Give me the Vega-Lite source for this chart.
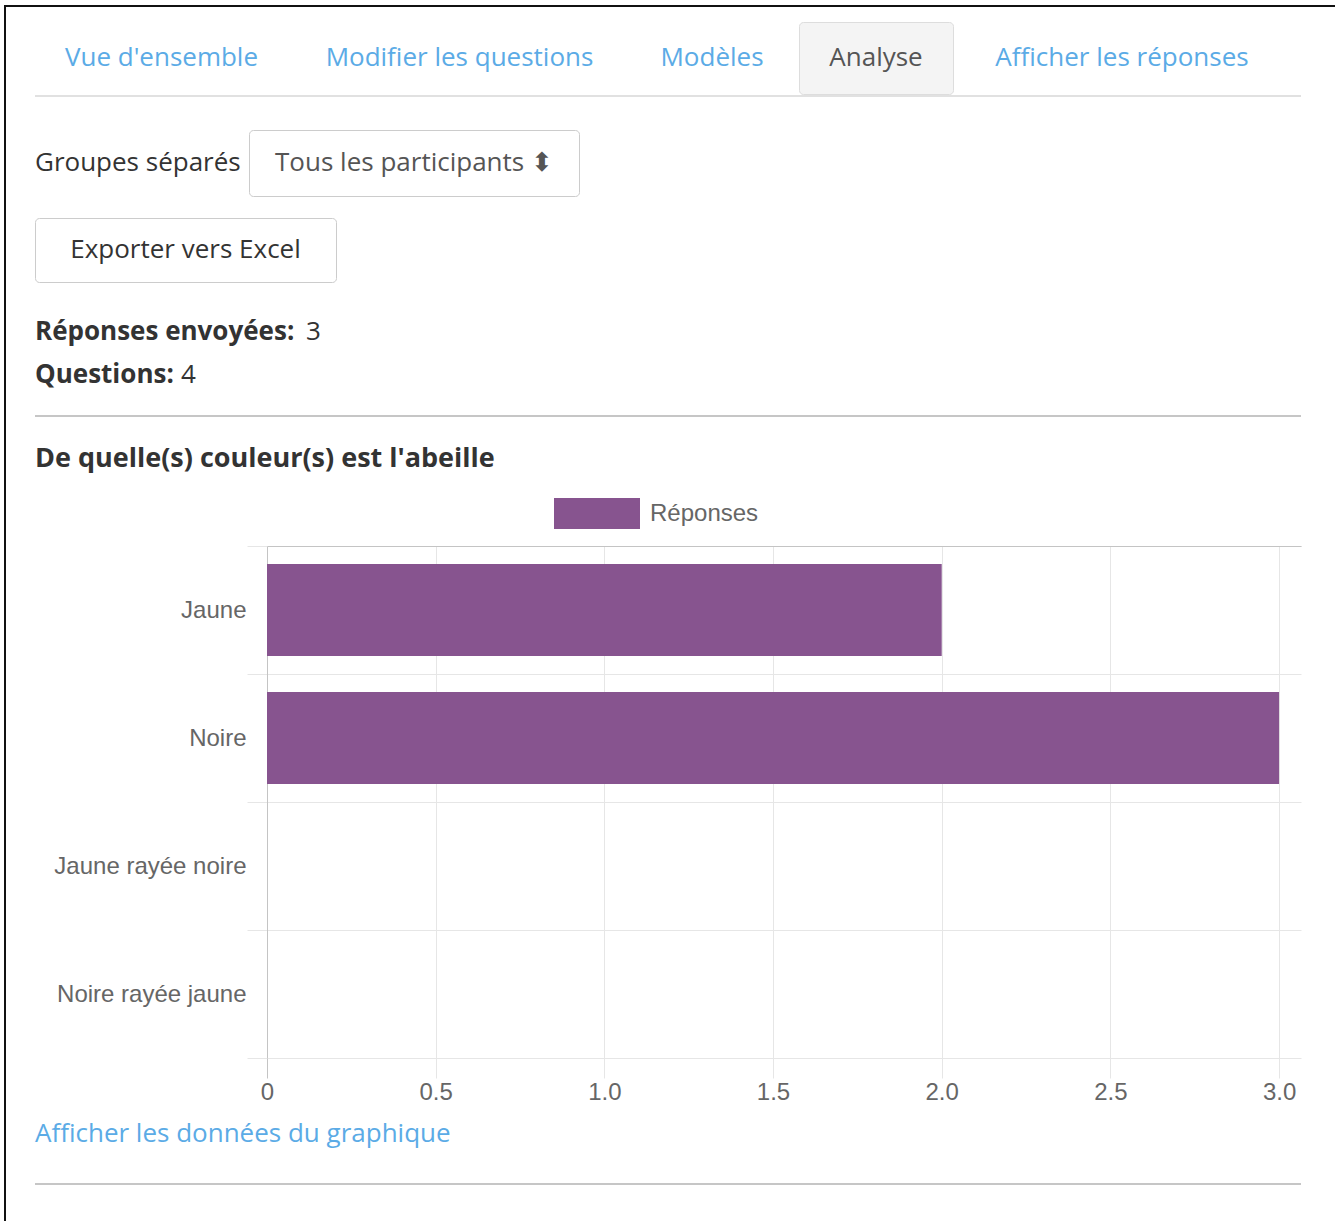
{
  "$schema": "https://vega.github.io/schema/vega-lite/v6.json",
  "background": "white",
  "padding": {"left": 4, "top": 5, "right": 0, "bottom": 0},
  "config": {"view": {"stroke": null}},
  "columns": 1,
  "spacing": 0,
  "align": "none",
  "concat": [
    {"width": 1331, "height": 2, "view": {"fill": "#111111"}, "data": {"values": [{}]}, "mark": {"type": "text", "text": "", "fontSize": 0}},
    {
      "columns": 3,
      "spacing": 28,
      "align": "none",
      "concat": [
        {"width": 2, "height": 1214, "view": {"fill": "#111111"}, "data": {"values": [{}]}, "mark": {"type": "text", "text": "", "fontSize": 0}},
        {
          "columns": 1,
          "spacing": 0,
          "align": "none",
          "concat": [
            {"width": 1271, "height": 13.5, "data": {"values": [{}]}, "mark": {"type": "text", "text": "", "fontSize": 0}},
            {
              "columns": 5,
              "spacing": 5,
              "align": "none",
              "concat": [
                {"width": 253, "height": 72, "data": {"values": [{"t": "Vue d'ensemble"}]}, "mark": {"type": "text", "align": "center", "baseline": "middle", "font": "Open Sans", "fontSize": 26, "color": "#5babe6"}, "encoding": {"text": {"field": "t"}}},
                {"width": 333, "height": 72, "data": {"values": [{"t": "Modifier les questions"}]}, "mark": {"type": "text", "align": "center", "baseline": "middle", "font": "Open Sans", "fontSize": 26, "color": "#5babe6"}, "encoding": {"text": {"field": "t"}}},
                {"width": 162, "height": 72, "data": {"values": [{"t": "Modèles"}]}, "mark": {"type": "text", "align": "center", "baseline": "middle", "font": "Open Sans", "fontSize": 26, "color": "#5babe6"}, "encoding": {"text": {"field": "t"}}},
                {"width": 154, "height": 72, "view": {"fill": "#f4f4f4", "stroke": "#dddddd", "strokeWidth": 1, "cornerRadius": 4}, "data": {"values": [{"t": "Analyse"}]}, "mark": {"type": "text", "align": "center", "baseline": "middle", "font": "Open Sans", "fontSize": 26, "color": "#555555"}, "encoding": {"text": {"field": "t"}}},
                {"width": 326, "height": 72, "data": {"values": [{"t": "Afficher les réponses"}]}, "mark": {"type": "text", "align": "center", "baseline": "middle", "font": "Open Sans", "fontSize": 26, "color": "#5babe6"}, "encoding": {"text": {"field": "t"}}}
              ]
            },
            {"width": 1266, "height": 2, "view": {"fill": "#e1e1e1"}, "data": {"values": [{}]}, "mark": {"type": "text", "text": "", "fontSize": 0}},
            {"width": 10, "height": 32, "data": {"values": [{}]}, "mark": {"type": "text", "text": "", "fontSize": 0}},
            {
              "columns": 2,
              "spacing": 7,
              "align": "none",
              "concat": [
                {"width": 206, "height": 66, "data": {"values": [{"t": "Groupes séparés"}]}, "mark": {"type": "text", "align": "left", "baseline": "middle", "font": "Open Sans", "fontSize": 26, "color": "#333333"}, "encoding": {"x": {"field": "t", "type": "nominal", "scale": {"type": "point", "padding": 0, "align": 0}, "axis": null}, "text": {"field": "t"}}},
                {"width": 330, "height": 66, "view": {"fill": "#ffffff", "stroke": "#cccccc", "strokeWidth": 1, "cornerRadius": 4}, "data": {"values": [{"t": "Tous les participants ⬍"}]}, "mark": {"type": "text", "align": "center", "baseline": "middle", "font": "Open Sans", "fontSize": 26, "color": "#555555"}, "encoding": {"text": {"field": "t"}}}
              ]
            },
            {"width": 10, "height": 20, "data": {"values": [{}]}, "mark": {"type": "text", "text": "", "fontSize": 0}},
            {"width": 301, "height": 64, "view": {"fill": "#ffffff", "stroke": "#cccccc", "strokeWidth": 1, "cornerRadius": 4}, "data": {"values": [{"t": "Exporter vers Excel"}]}, "mark": {"type": "text", "align": "center", "baseline": "middle", "font": "Open Sans", "fontSize": 26, "color": "#333333"}, "encoding": {"text": {"field": "t"}}},
            {"width": 10, "height": 28, "data": {"values": [{}]}, "mark": {"type": "text", "text": "", "fontSize": 0}},
            {
              "columns": 2,
              "spacing": 0,
              "align": "none",
              "concat": [
                {"width": 271, "height": 42, "data": {"values": [{"t": "Réponses envoyées:"}]}, "mark": {"type": "text", "align": "left", "baseline": "middle", "font": "Open Sans", "fontSize": 26, "fontWeight": "bold", "color": "#333333"}, "encoding": {"x": {"field": "t", "type": "nominal", "scale": {"type": "point", "padding": 0, "align": 0}, "axis": null}, "text": {"field": "t"}}},
                {"width": 20, "height": 42, "data": {"values": [{"t": "3"}]}, "mark": {"type": "text", "align": "left", "baseline": "middle", "font": "Open Sans", "fontSize": 26, "color": "#333333"}, "encoding": {"x": {"field": "t", "type": "nominal", "scale": {"type": "point", "padding": 0, "align": 0}, "axis": null}, "text": {"field": "t"}}}
              ]
            },
            {
              "columns": 2,
              "spacing": 0,
              "align": "none",
              "concat": [
                {"width": 146, "height": 44, "data": {"values": [{"t": "Questions:"}]}, "mark": {"type": "text", "align": "left", "baseline": "middle", "font": "Open Sans", "fontSize": 26, "fontWeight": "bold", "color": "#333333"}, "encoding": {"x": {"field": "t", "type": "nominal", "scale": {"type": "point", "padding": 0, "align": 0}, "axis": null}, "text": {"field": "t"}}},
                {"width": 20, "height": 44, "data": {"values": [{"t": "4"}]}, "mark": {"type": "text", "align": "left", "baseline": "middle", "font": "Open Sans", "fontSize": 26, "color": "#333333"}, "encoding": {"x": {"field": "t", "type": "nominal", "scale": {"type": "point", "padding": 0, "align": 0}, "axis": null}, "text": {"field": "t"}}}
              ]
            },
            {"width": 10, "height": 18, "data": {"values": [{}]}, "mark": {"type": "text", "text": "", "fontSize": 0}},
            {"width": 1266, "height": 2, "view": {"fill": "#c6c6c6"}, "data": {"values": [{}]}, "mark": {"type": "text", "text": "", "fontSize": 0}},
            {"width": 10, "height": 20, "data": {"values": [{}]}, "mark": {"type": "text", "text": "", "fontSize": 0}},
            {"width": 1266, "height": 44, "data": {"values": [{"t": "De quelle(s) couleur(s) est l'abeille"}]}, "mark": {"type": "text", "align": "left", "baseline": "middle", "font": "Open Sans", "fontSize": 27, "fontWeight": "bold", "color": "#333333"}, "encoding": {"x": {"field": "t", "type": "nominal", "scale": {"type": "point", "padding": 0, "align": 0}, "axis": null}, "text": {"field": "t"}}},
            {"width": 10, "height": 52.5, "data": {"values": [{}]}, "mark": {"type": "text", "text": "", "fontSize": 0}},
            {
              "columns": 2,
              "spacing": 0,
              "bounds": "flush",
              "align": "none",
              "concat": [
                {"width": 232, "height": 512, "data": {"values": [{}]}, "mark": {"type": "text", "text": "", "fontSize": 0}},
                {
                  "width": 1034,
                  "height": 512,
                  "data": {"values": [
                    {"couleur": "Jaune", "reponses": 2, "serie": "Réponses"},
                    {"couleur": "Noire", "reponses": 3, "serie": "Réponses"},
                    {"couleur": "Jaune rayée noire", "reponses": 0, "serie": "Réponses"},
                    {"couleur": "Noire rayée jaune", "reponses": 0, "serie": "Réponses"}
                  ]},
                  "layer": [
                    {
                      "mark": {"type": "bar", "height": {"band": 0.72}, "strokeWidth": 0},
                      "encoding": {
                        "y": {
                          "field": "couleur", "type": "nominal", "sort": null,
                          "scale": {"paddingInner": 0, "paddingOuter": 0},
                          "axis": {"title": null, "tickBand": "extent", "grid": true, "gridColor": "#e6e6e6", "tickColor": "#e6e6e6", "tickSize": 20, "domain": true, "domainColor": "#c4c4c4", "labelFont": "Liberation Sans", "labelFontSize": 24, "labelColor": "#666666", "labelPadding": 1, "labelLimit": 400}
                        },
                        "x": {
                          "field": "reponses", "type": "quantitative",
                          "scale": {"domain": [0, 3.065], "nice": false, "zero": true},
                          "axis": {"title": null, "values": [0, 0.5, 1, 1.5, 2, 2.5, 3], "labelExpr": "datum.value === 0 ? '0' : format(datum.value, '.1f')", "grid": true, "gridColor": "#e6e6e6", "tickSize": 20, "tickColor": {"condition": {"test": "datum.value === 0", "value": "#c4c4c4"}, "value": "#e6e6e6"}, "domain": false, "labelFont": "Liberation Sans", "labelFontSize": 24, "labelColor": "#666666", "labelPadding": 2, "labelFlush": false, "labelOverlap": false}
                        },
                        "color": {
                          "field": "serie", "type": "nominal",
                          "scale": {"range": ["#87548f"]},
                          "legend": {"orient": "none", "legendX": 577.5, "legendY": 493, "title": null, "padding": 0, "symbolType": "M-2.774,-1H2.774V1H-2.774Z", "symbolSize": 961, "symbolStrokeWidth": 0, "symbolOpacity": 1, "labelFont": "Liberation Sans", "labelFontSize": 24, "labelColor": "#666666", "labelOffset": 37.5}
                        }
                      }
                    },
                    {
                      "mark": {"type": "bar", "opacity": 0},
                      "encoding": {
                        "x": {"field": "reponses", "type": "quantitative", "axis": {"orient": "top", "title": null, "domain": true, "domainColor": "#c4c4c4", "labels": false, "ticks": false, "grid": false}}
                      }
                    }
                  ],
                  "resolve": {"axis": {"x": "independent"}}
                }
              ]
            },
            {"width": 1266, "height": 60, "data": {"values": [{"t": "Afficher les données du graphique"}]}, "mark": {"type": "text", "align": "left", "baseline": "middle", "font": "Open Sans", "fontSize": 26, "color": "#5babe6"}, "encoding": {"x": {"field": "t", "type": "nominal", "scale": {"type": "point", "padding": 0, "align": 0}, "axis": null}, "text": {"field": "t"}}},
            {"width": 10, "height": 19, "data": {"values": [{}]}, "mark": {"type": "text", "text": "", "fontSize": 0}},
            {"width": 1266, "height": 2, "view": {"fill": "#c6c6c6"}, "data": {"values": [{}]}, "mark": {"type": "text", "text": "", "fontSize": 0}}
          ]
        },
        {"width": 2, "height": 1214, "view": {"fill": "#dcdcdc"}, "data": {"values": [{}]}, "mark": {"type": "text", "text": "", "fontSize": 0}}
      ]
    }
  ]
}
